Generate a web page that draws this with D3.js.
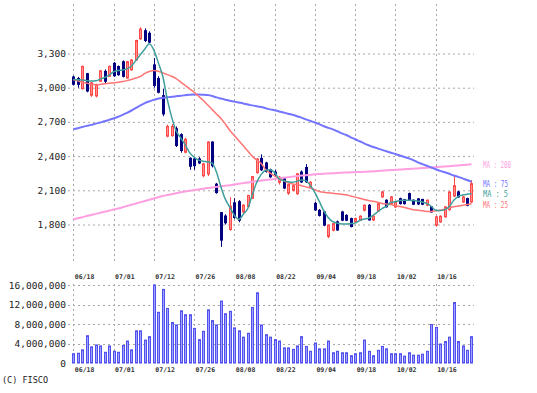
<!DOCTYPE html>
<html><head><meta charset="utf-8">
<script src="https://cdn.jsdelivr.net/npm/d3@7"></script>
<style>
body{margin:0;background:#fff}
svg{display:block}
text{font-family:"DejaVu Sans Mono","Liberation Mono",monospace}
</style>
</head><body>
<svg id="c" width="537" height="393"></svg>
<script>
// ---- data (trading days 2019-06-18 .. 2019-10-29) ----
const openP = [3094,3080,2991,3123,2934,2928,3057,3143,3100,3214,3186,3228,3085,3157,3243,3429,3500,3477,3200,3080,
  2930,2575,2580,2640,2588,2434,2381,2375,2375,2228,2243,2523,2154,1904,1874,1756,1990,2000,1911,1958,
  2030,2255,2380,2340,2280,2260,2170,2202,2075,2100,2070,2260,2300,2130,1985,1925,1910,1695,1750,1823,
  1910,1880,1852,1823,1838,1925,1969,1840,1919,2042,2013,1983,1954,2027,2018,2071,2013,2025,2020,1969,
  1955,1794,1823,1867,1930,2050,2086,1998,2027,1998];
const highP = [3105,3095,3195,3130,3050,3035,3155,3160,3195,3225,3195,3240,3235,3250,3420,3530,3520,3495,3260,3100,
  2990,2675,2680,2660,2600,2560,2390,2385,2390,2340,2530,2530,2165,1910,1890,2040,2030,2014,1975,2060,
  2225,2380,2415,2350,2290,2280,2225,2210,2160,2150,2250,2275,2330,2180,2000,1935,1920,1800,1815,1835,
  1920,1890,1860,1860,1880,1975,1980,1880,1990,2095,2020,2050,2005,2035,2025,2080,2020,2030,2025,2020,
  1962,1875,1880,1960,2090,2225,2095,2050,2035,2190];
const lowP = [3020,3000,2985,2960,2920,2915,3050,3040,3095,3095,3105,3090,3080,3150,3235,3420,3400,3390,3000,2950,
  2750,2565,2570,2480,2430,2425,2280,2280,2330,2215,2225,2300,2070,1604,1800,1745,1850,1820,1900,1950,
  2025,2245,2270,2255,2210,2225,2150,2110,2060,2090,2060,2165,2165,2120,1920,1870,1785,1680,1740,1745,
  1830,1830,1775,1815,1830,1915,1835,1830,1910,2035,1950,1975,1945,1975,1975,2010,1970,1970,1970,1960,
  1905,1780,1815,1860,1920,2040,2035,1990,1960,1990];
const closeP = [3030,3030,3186,2971,3043,3028,3148,3057,3186,3105,3114,3100,3228,3243,3414,3514,3414,3400,3020,2960,
  2770,2660,2660,2493,2449,2547,2311,2316,2340,2331,2523,2316,2080,1663,1815,1960,1862,1838,1970,2055,
  2220,2375,2280,2265,2218,2240,2215,2120,2150,2140,2245,2173,2175,2170,1928,1880,1795,1794,1808,1752,
  1838,1838,1782,1852,1873,1969,1840,1873,1983,2086,1955,2042,1998,1983,1983,2018,1978,1980,1978,2013,
  1910,1867,1873,1954,2085,2140,2042,2042,1969,2158];
// volume in millions of shares
const volumeM = [1.9,2.0,2.7,5.6,3.3,3.7,3.5,2.2,3.5,2.4,2.2,3.6,4.5,2.7,6.6,6.6,4.7,5.4,16.0,10.4,
  15.1,11.2,8.3,7.8,10.7,9.9,9.9,7.1,4.8,6.5,10.9,8.7,7.8,12.7,10.1,10.6,7.2,6.6,5.3,6.1,
  11.4,14.4,7.8,5.8,5.3,4.8,4.5,3.1,3.1,2.8,3.5,5.4,3.4,2.4,4.1,2.9,2.9,4.5,2.1,2.4,
  2.1,2.1,1.5,1.9,2.1,4.7,2.4,1.5,2.6,3.4,2.9,1.9,1.9,1.9,1.4,2.1,1.6,1.6,1.8,2.4,
  7.9,7.3,3.9,4.4,5.3,12.4,4.4,3.5,2.6,5.4];
const ma5 = [3071,3070,3068,3062,3058,3060,3075,3090,3110,3140,3150,3155,3165,3190,3240,3290,3340,3385,3330,3220,
  3100,2900,2740,2620,2560,2500,2430,2390,2365,2355,2350,2340,2260,2130,2020,1950,1880,1845,1890,1940,
  2060,2170,2240,2275,2280,2255,2200,2185,2175,2170,2180,2190,2185,2140,2080,2000,1920,1860,1825,1812,
  1805,1805,1808,1812,1835,1848,1855,1880,1910,1940,1960,1995,2000,2010,2012,2013,2010,2005,1998,1985,
  1960,1925,1922,1930,1955,2010,2045,2058,2065,2070];
const ma25 = [3069,3060,3048,3040,3030,3026,3028,3035,3040,3042,3048,3054,3062,3072,3085,3100,3125,3142,3150,3145,
  3130,3115,3100,3080,3050,3020,2990,2960,2925,2890,2850,2810,2770,2730,2680,2625,2580,2535,2490,2445,
  2400,2365,2335,2280,2250,2225,2205,2185,2165,2155,2150,2140,2130,2120,2105,2090,2082,2078,2074,2070,
  2065,2060,2050,2040,2030,2020,2010,2003,1995,1985,1980,1975,1965,1958,1950,1940,1930,1925,1920,1915,
  1915,1920,1925,1935,1945,1955,1962,1968,1975,1983];
const ma75 = [2635,2645,2655,2665,2674,2685,2695,2705,2718,2730,2745,2762,2780,2800,2822,2845,2865,2880,2893,2905,
  2912,2916,2920,2925,2930,2934,2938,2940,2940,2938,2935,2928,2915,2905,2895,2885,2878,2870,2862,2852,
  2845,2838,2830,2820,2810,2802,2792,2782,2772,2762,2750,2737,2722,2708,2695,2680,2662,2648,2635,2618,
  2600,2585,2565,2548,2530,2512,2495,2480,2468,2455,2442,2430,2418,2405,2392,2380,2365,2345,2330,2315,
  2300,2285,2270,2258,2245,2230,2218,2205,2190,2175];
const ma200 = [1845,1855,1864,1874,1883,1893,1902,1912,1921,1931,1940,1951,1962,1973,1984,1995,2006,2017,2028,2039,
  2050,2058,2066,2074,2082,2090,2096,2102,2108,2114,2120,2125,2130,2135,2140,2145,2151,2157,2163,2169,
  2175,2180,2185,2190,2195,2200,2205,2210,2215,2220,2225,2229,2233,2236,2240,2243,2246,2248,2250,2252,
  2255,2256,2258,2259,2261,2262,2264,2267,2270,2272,2275,2277,2280,2282,2285,2287,2290,2292,2295,2297,
  2300,2303,2306,2309,2312,2315,2318,2321,2324,2328];
const dateTickLabels = ["06/18","07/01","07/12","07/26","08/08","08/22","09/04","09/18","10/02","10/16"];
const dateTickIndex = [0,9,18,27,36,45,54,63,72,81];
const priceTicks = [1800,2100,2400,2700,3000,3300];
const volumeTicks = [0,4,8,12,16];
const maNames = ["MA : 200","MA : 75","MA : 5","MA : 25"];

// ---- scales ----
const x = d3.scaleLinear().domain([0,81]).range([73.3,435.7]);
const yP = d3.scaleLinear().domain([1800,3300]).range([224.5,53.5]);
const yV = d3.scaleLinear().domain([0,16]).range([363,285]);
const L = 68, R = 474;

const svg = d3.select("#c");
const gridCol = "#a8a8a8";
const dash = "2,3";

// price grid
svg.append("g").selectAll("line").data(priceTicks).join("line")
  .attr("x1",L).attr("x2",R).attr("y1",d=>yP(d)+0.5).attr("y2",d=>yP(d)+0.5)
  .attr("stroke",gridCol).attr("stroke-dasharray",dash);
svg.append("g").selectAll("line").data(dateTickIndex).join("line")
  .attr("x1",d=>Math.round(x(d))+0.5).attr("x2",d=>Math.round(x(d))+0.5).attr("y1",4).attr("y2",262)
  .attr("stroke",gridCol).attr("stroke-dasharray",dash);
// volume grid
svg.append("g").selectAll("line").data(volumeTicks.slice(1)).join("line")
  .attr("x1",L).attr("x2",R).attr("y1",d=>Math.round(yV(d))+0.5).attr("y2",d=>Math.round(yV(d))+0.5)
  .attr("stroke",gridCol).attr("stroke-dasharray",dash);
svg.append("g").selectAll("line").data(dateTickIndex).join("line")
  .attr("x1",d=>Math.round(x(d))+0.5).attr("x2",d=>Math.round(x(d))+0.5).attr("y1",284).attr("y2",363)
  .attr("stroke",gridCol).attr("stroke-dasharray",dash);

// axes
const fmt = d3.format(",");
const axP = svg.append("g").attr("transform",`translate(${L},0)`)
  .call(d3.axisLeft(yP).tickValues(priceTicks).tickFormat(fmt).tickSize(0).tickPadding(2));
const axV = svg.append("g").attr("transform",`translate(${L},0)`)
  .call(d3.axisLeft(yV).tickValues(volumeTicks).tickFormat(d=>fmt(d*1e6)).tickSize(0).tickPadding(2));
[axP,axV].forEach(a=>{a.select(".domain").remove();
  a.selectAll("text").attr("font-size","9.5px").attr("fill","#222").attr("font-family","DejaVu Sans Mono");});

function dateAxis(y){
  const a = svg.append("g").attr("transform",`translate(0,${y})`)
    .call(d3.axisBottom(x).tickValues(dateTickIndex).tickFormat((d,i)=>dateTickLabels[i]).tickSize(0).tickPadding(0));
  a.select(".domain").remove();
  a.selectAll("text").attr("text-anchor","start").attr("dx","1").attr("dy","0")
    .attr("font-size","6.5px").attr("font-weight","bold").attr("fill","#333");
}
dateAxis(279);
dateAxis(372);

// volume bars
svg.append("g").selectAll("rect").data(volumeM).join("rect")
  .attr("x",(d,i)=>Math.round(x(i))-0.5).attr("width",2)
  .attr("y",d=>yV(d)).attr("height",d=>yV(0)-yV(d))
  .attr("fill","#a0a0ff").attr("stroke","#5050ee").attr("stroke-width",1);

// candles
const upFill="#ff9090", upStroke="#ff4848", dn="#000080";
const cg = svg.append("g");
openP.forEach((o,i)=>{
  const c = closeP[i], up = c>=o, cx = Math.round(x(i))+0.5;
  cg.append("line").attr("x1",cx).attr("x2",cx).attr("y1",yP(highP[i])).attr("y2",yP(lowP[i]))
    .attr("stroke",up?upStroke:dn).attr("stroke-width",1);
  const top = yP(Math.max(o,c)), h = Math.max(1, Math.abs(yP(o)-yP(c)));
  cg.append("rect").attr("x",cx-1).attr("width",2).attr("y",top).attr("height",h)
    .attr("fill",up?upFill:dn).attr("stroke",up?upStroke:dn).attr("stroke-width",1);
});

// moving averages
const line = d3.line().x((d,i)=>x(i)).y(d=>yP(d)).curve(d3.curveMonotoneX);
const maSeries = [
  {v:ma200,c:"#ff9ee0",w:2},
  {v:ma75,c:"#7474ff",w:2},
  {v:ma25,c:"#ff7474",w:1.5},
  {v:ma5,c:"#3f9f9c",w:1.5}
];
maSeries.forEach(s=>svg.append("path").attr("d",line(s.v)).attr("fill","none")
  .attr("stroke",s.c).attr("stroke-width",s.w).attr("stroke-linejoin","round"));

// MA labels
const labCols = ["#ff9ee0","#7474ff","#3f9f9c","#ff7474"];
const labY = [168,187,197,208];
svg.append("g").selectAll("text").data(maNames).join("text")
  .attr("x",483).attr("y",(d,i)=>labY[i]).text(d=>d)
  .attr("fill",(d,i)=>labCols[i]).attr("font-size","8px")
  .attr("textLength",(d,i)=>i===0?28:25).attr("lengthAdjust","spacingAndGlyphs");

svg.append("text").attr("x",2).attr("y",383).text("(C) FISCO")
  .attr("font-size","8.5px").attr("fill","#222");
</script>
</body></html>
